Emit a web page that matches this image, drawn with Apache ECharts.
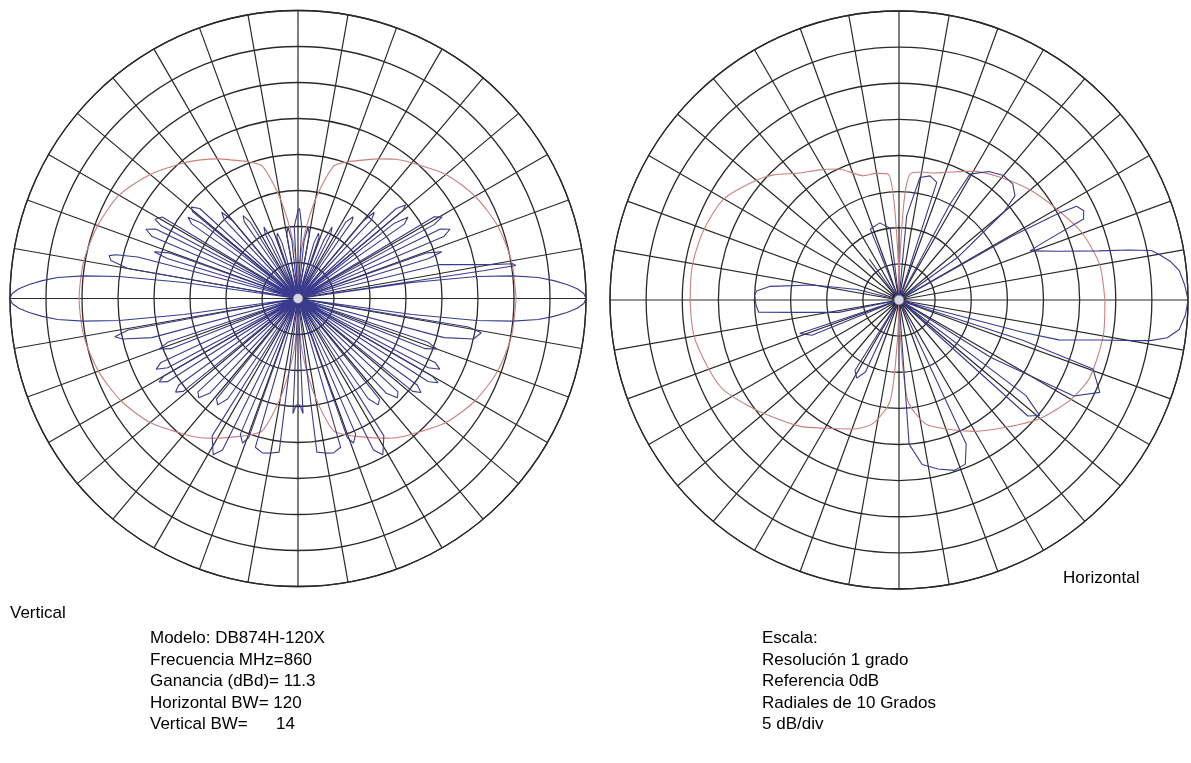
<!DOCTYPE html>
<html>
<head>
<meta charset="utf-8">
<title>DB874H-120X</title>
<script src="https://cdn.jsdelivr.net/npm/echarts@6/dist/echarts.min.js"></script>
<style>
  html, body { margin: 0; padding: 0; background: #ffffff; }
  #chart { width: 1191px; height: 763px; }
</style>
</head>
<body>
<div id="chart"></div>
<script>
// Radiation patterns of the DB874H-120X antenna, 5 dB per ring, 0 dB reference on the outer ring.
// Angles in degrees, counter-clockwise from the right-hand horizontal.

// Vertical plane - co-polar (blue)
const vBlueDeg = [0,1,2,3,4,5,6,7,8,8.8,
  8.5,8.6,9.2,10,12,13.5,14.5,
  15.5,17,18,19.5,20.5,
  21.5,23,24.5,26,27,
  27.5,28.5,29.5,31,32,
  33,35,36.5,38,38.5,
  39,40,41,42.5,43.5,
  45,47,48.5,50,51,
  53,55,56,58,59,
  61,63,64.5,66,67,
  69,71,72.5,74,75,
  77,80,82,84,85,87,89,90,
  91,93,95,96,98,100,103,
  105,106,107.5,109,111,
  113,114,115.5,117,119,
  121,122,123.5,125,127,
  129,130,131.5,133,135,
  136.5,137.5,139.4,140.5,141,
  141.5,142,143.5,145,147,
  148,149,151,152,152.5,
  153,154,155.5,157,158.5,
  159.5,160.5,162,163,164.5,
  165,165.5,166.5,167.2,168.5,170,171,
  171.2,172,173,174,175,176,177,178,179,180,
  181,182,183,184,185,186,187,188,188.8,
  189.5,190.5,191.8,193,195,196,
  197,198.5,200,201.5,202.5,
  203.5,205,206.5,208,209,
  209.5,210,211,212.5,213.5,
  214.5,216,217.4,219,220,
  221,223,225,227,228,
  229.5,231,233,235,236,
  236.5,238,241.5,243.5,244.5,
  245.5,247,249,250.5,251.5,
  252,254,257,260,263,265,
  266,267.5,269,270,271,272.5,274,
  275,277,280,283,286,288,
  288.5,289.5,291,293,294.5,
  295.5,296.5,298.5,302,303.5,
  304,305,307,309,310.5,
  312,313,315,317,319,
  320,321,322.6,324,325.5,
  326.5,327.5,329,330,330.5,
  331,332,333.5,335,336.5,
  337.5,338.5,340,341.5,343,
  344,345,347,349.4,350.5,351,
  351.2,352,353,354,355,356,357,358,359,360];
const vBlueDb = [0,-0.3,-1.2,-2.6,-4.4,-6.5,-10,-15,-24,-40,
  -14,-9.4,-9.8,-12.9,-17.4,-19.8,-40,
  -40,-21,-19,-21,-40,
  -40,-18,-16.8,-18,-40,
  -40,-18.5,-17,-18,-40,
  -40,-22,-21,-23,-40,
  -40,-21,-20.2,-21.5,-40,
  -40,-25,-24,-26,-40,
  -40,-27,-26.3,-27.5,-40,
  -40,-30,-29,-31,-40,
  -40,-31,-30.5,-32,-40,
  -40,-31,-30,-32,-40,-30,-27.5,-27.8,
  -28,-30,-40,-32,-30,-31,-40,
  -40,-32,-30.5,-31,-40,
  -40,-31,-29,-30,-40,
  -40,-27.5,-26.2,-27,-40,
  -40,-26,-24,-25,-40,
  -40,-21.5,-20.5,-21,-40,
  -40,-23,-21,-22,-40,
  -40,-18,-17.3,-18.5,-40,
  -40,-18,-16.8,-18,-40,
  -40,-21,-19,-21,-40,
  -40,-17,-14,-13.1,-13.5,-16,-40,
  -40,-24,-15,-10,-6.5,-4.4,-2.6,-1.2,-0.3,0,
  -0.3,-1.2,-2.6,-4.4,-6.5,-10,-15,-24,-40,
  -40,-16,-14,-15,-19,-40,
  -40,-21,-19.5,-21,-40,
  -40,-19,-18,-19.5,-40,
  -40,-18.5,-17.5,-18.5,-40,
  -40,-19.5,-18.6,-19.5,-40,
  -40,-21,-20.5,-22,-40,
  -40,-22,-21.5,-23,-40,
  -40,-17.5,-15.3,-16.5,-40,
  -40,-19.5,-18.5,-19.5,-40,
  -40,-18.5,-18,-18.2,-18.5,-40,
  -40,-24,-25.2,-25.2,-25.2,-24,-40,
  -40,-18.5,-18.2,-18,-18.5,-40,
  -40,-19.5,-18.5,-19.5,-40,
  -40,-16.5,-15.3,-17.5,-40,
  -40,-23,-21.5,-22,-40,
  -40,-22,-20.5,-21,-40,
  -40,-19.5,-18.5,-19.5,-40,
  -40,-18.5,-17.3,-18.5,-40,
  -40,-19.5,-18,-19,-40,
  -40,-21,-19.5,-21,-40,
  -40,-19,-15,-14.1,-16,-40,
  -40,-24,-15,-10,-6.5,-4.4,-2.6,-1.2,-0.3,0];

// Vertical plane - cross-polar (red)
const vRedDeg = [0,10,20,30,40,50,55,60,65,70,75,80,85,88,90,
  92,95,100,105,110,115,120,125,130,140,150,160,170,180,
  190,200,210,220,230,235,240,245,250,255,260,265,268,270,
  272,275,280,285,290,295,300,305,310,320,330,340,350,360];
const vRedDb = [-9.7,-9.9,-10.5,-11.6,-13.2,-15.4,-16.4,-17.6,-18.8,-19.8,-21,-26,-32,-36.5,-40,
  -36.5,-32,-26,-21,-19.8,-18.8,-17.6,-16.5,-15.4,-13.2,-11.3,-10.4,-9.8,-9.6,
  -9.8,-10.5,-11.6,-13.2,-15.4,-16.4,-17.6,-18.8,-19.8,-21,-26,-32,-36.5,-40,
  -36.5,-32,-26,-21,-19.8,-18.8,-17.6,-16.4,-15.4,-13.2,-11.6,-10.5,-9.9,-9.7];

// Horizontal plane - co-polar (blue)
const hBlueDeg = [0,3,6,8,10,11.1,12.3,13.8,17,20.5,21.5,23.7,25.8,27.8,28.5,29.5,30.5,
  33,36,40,42,45.6,50,55,60.6,62,64,
  68,72.2,76,80.3,84.8,86,
  93,97,104,112,115,
  120,126,132,
  162,166,170,174,176.3,178,180,182,185,187,191.6,194,
  196,198.6,202,205,
  230,238,241.6,245,248,
  271,274,278,283,288,292,295,297,
  312,318,320.6,323,326,
  328,331.2,335.3,340.4,342,343,
  345.4,346,348.7,350.3,350.8,352,354,357,360];
const hBlueDb = [0,-0.4,-1,-2,-3.5,-4.4,-7.5,-11.5,-16.9,-20.6,-19,-12.1,-11.6,-12.2,-15,-22,-40,
  -40,-30,-21,-18.4,-17.5,-17.5,-18.3,-20,-25,-40,
  -40,-22.9,-22.3,-22.8,-28.3,-40,
  -40,-30,-29,-29.4,-40,
  -40,-33,-40,
  -40,-34,-28,-22,-20.3,-20,-20.1,-20.2,-20.5,-26,-31.5,-40,
  -40,-25.5,-27,-40,
  -40,-28.5,-27.7,-29,-40,
  -40,-20,-17,-16,-15.2,-15.5,-18,-40,
  -40,-16,-14.8,-18,-40,
  -25,-12.4,-9.4,-11.5,-22,-40,
  -22.2,-17.2,-11.7,-6.6,-4.8,-2.5,-1,-0.3,0];

// Horizontal plane - cross-polar (red)
const hRedDeg = [0,10,20,30,40,50,60,70,75,80,85,87,89,90,
  91,93,95,100,106,115,122,128,135,140,150,160,170,180,
  190,200,207,215,222,232,240,250,258,265,268,270,
  272,275,282,290,300,310,320,330,338,350,360];
const hRedDb = [-11.5,-11.8,-13,-14.8,-16.3,-17.9,-19.4,-21.2,-21.8,-22,-22.5,-26,-35,-40,
  -35,-26,-22.5,-22.2,-22.1,-20,-18.8,-17.7,-15.5,-14.2,-12,-11.3,-11,-11.1,
  -11.2,-12,-12.7,-14.5,-16,-17.8,-19.5,-21,-22.5,-26,-35,-40,
  -35,-26,-22.5,-21,-19,-17,-14.5,-12.5,-11.5,-11.3,-11.5];

// Ring values (dB) and radial spacing (degrees)
const dbMin = -40, dbMax = 0, dbStep = 5, radialStep = 10;

const gridColor = '#2a2a2a';
const blueColor = '#3a3a8e';
const redColor = '#c98080';
const textFont = 'Arial, "Liberation Sans", sans-serif';

function pairs(deg, db) { return deg.map((a, i) => [db[i], a]); }

function angleAxis(idx) {
  return {
    polarIndex: idx, type: 'value', min: 0, max: 360, interval: radialStep,
    startAngle: 0, clockwise: false,
    axisLine: { show: true, lineStyle: { color: gridColor, width: 1.3 } },
    axisTick: { show: false }, axisLabel: { show: false },
    splitLine: { show: true, lineStyle: { color: gridColor, width: 1.2 } }
  };
}
function radiusAxis(idx) {
  return {
    polarIndex: idx, type: 'value', min: dbMin, max: dbMax, interval: dbStep,
    axisLine: { show: false }, axisTick: { show: false }, axisLabel: { show: false },
    splitLine: { show: true, lineStyle: { color: gridColor, width: 1.3 } }
  };
}
function trace(idx, data, color, z, smooth) {
  return {
    type: 'line', coordinateSystem: 'polar', polarIndex: idx, data: data,
    showSymbol: false, symbol: 'none', smooth: smooth, z: z,
    lineStyle: { color: color, width: 1.1 }, silent: true
  };
}
function hub(idx) {
  return {
    type: 'scatter', coordinateSystem: 'polar', polarIndex: idx,
    data: [[dbMin, 0]], symbol: 'circle', symbolSize: 10, z: 10, silent: true,
    itemStyle: { color: '#ffffff', borderColor: '#555577', borderWidth: 1 }
  };
}

const infoLeft = ['Modelo: DB874H-120X', 'Frecuencia MHz=860', 'Ganancia (dBd)= 11.3',
  'Horizontal BW= 120', 'Vertical BW=      14'];
const infoRight = ['Escala:', 'Resolución 1 grado', 'Referencia 0dB',
  'Radiales de 10 Grados', '5 dB/div'];

function label(text, x, y) {
  return { type: 'text', left: x, top: y, silent: true,
    style: { text: text, fill: '#000', font: '17px ' + textFont } };
}

const graphics = [label('Vertical', 10, 605), label('Horizontal', 1063, 570)];
infoLeft.forEach((t, i) => graphics.push(label(t, 150, 630 + i * 21.5)));
infoRight.forEach((t, i) => graphics.push(label(t, 762, 630 + i * 21.5)));

const chart = echarts.init(document.getElementById('chart'), null, { renderer: 'canvas' });
chart.setOption({
  animation: false,
  backgroundColor: '#ffffff',
  polar: [
    { center: [298, 298.5], radius: 288 },
    { center: [899, 300], radius: 289 }
  ],
  angleAxis: [angleAxis(0), angleAxis(1)],
  radiusAxis: [radiusAxis(0), radiusAxis(1)],
  series: [
    trace(0, pairs(vRedDeg, vRedDb), redColor, 3, 0.25),
    trace(0, pairs(vBlueDeg, vBlueDb), blueColor, 4, false),
    hub(0),
    trace(1, pairs(hRedDeg, hRedDb), redColor, 3, 0.25),
    trace(1, pairs(hBlueDeg, hBlueDb), blueColor, 4, false),
    hub(1)
  ],
  graphic: graphics
});
</script>
</body>
</html>
